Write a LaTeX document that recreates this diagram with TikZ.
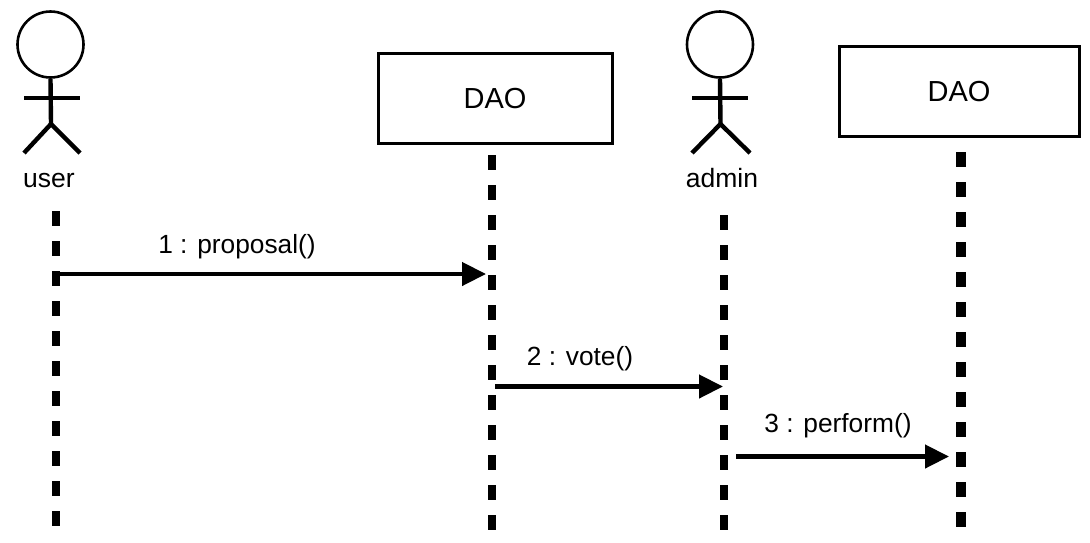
\documentclass[tikz,border=0pt]{standalone}
\usepackage{fontspec}
\setmainfont{Liberation Sans}
\usetikzlibrary{arrows.meta}
\tikzset{
  lifeline/.style={line width=8pt,dash pattern=on 15pt off 15pt},
  objectbox/.style={draw,line width=3pt,rectangle,minimum width=234pt,minimum height=90pt,inner sep=0pt,font=\fontsize{29}{32}\selectfont},
  head/.style={draw,circle,line width=2.6pt,minimum size=66pt,inner sep=0pt},
  limb/.style={line width=4.4pt},
  actorlabel/.style={font=\fontsize{26.5}{30}\selectfont,inner sep=0pt},
  msglabel/.style={font=\fontsize{26.3}{30}\selectfont,inner sep=0pt},
  msg/.style={line width=4.4pt,-{Triangle[length=24pt,width=23pt]}}
}
\begin{document}
\begin{tikzpicture}[x=1pt,y=-1pt]
\useasboundingbox (0,0) rectangle (1090,542);
% lifeline end points
\coordinate (ut) at (56,211);   \coordinate (ub) at (56,526);
\coordinate (d1t) at (492,155); \coordinate (d1b) at (492,530);
\coordinate (at) at (724,215);  \coordinate (ab) at (724,530);
\coordinate (d2t) at (961,152); \coordinate (d2b) at (961,527);
\draw[lifeline] (ut) -- (ub);
\draw[lifeline] (d1t) -- (d1b);
\draw[lifeline] (at) -- (ab);
\draw[lifeline,line width=10pt] (d2t) -- (d2b);
% objects
\node[objectbox] (dao1) at (495,98.5) {DAO};
\node[objectbox,minimum width=240pt] (dao2) at (959,91.5) {DAO};
% user actor
\node[head] (uhead) at (50.5,44.5) {};
\coordinate (uhip) at (51,124);
\coordinate (ularm) at (24,98); \coordinate (urarm) at (80,98);
\coordinate (ullf) at (24,153); \coordinate (urlf) at (80,153);
\draw[limb] (uhead.south) -- (uhip);
\draw[limb] (ularm) -- (urarm);
\draw[limb] (ullf) -- (uhip) -- (urlf);
\node[actorlabel] (ulabel) at (49,180) {user};
% admin actor
\node[head] (ahead) at (720,44.5) {};
\coordinate (ahip) at (720.5,124);
\coordinate (alarm) at (692,98); \coordinate (ararm) at (748,98);
\coordinate (allf) at (692,153); \coordinate (arlf) at (750,153);
\draw[limb] (ahead.south) -- (ahip);
\draw[limb] (alarm) -- (ararm);
\draw[limb] (allf) -- (ahip) -- (arlf);
\node[actorlabel] (alabel) at (722,178) {admin};
% messages
\coordinate (m1s) at (60,274);    \coordinate (m1e) at (486,274);
\coordinate (m2s) at (495,386.5); \coordinate (m2e) at (723,386.5);
\coordinate (m3s) at (736,456.5); \coordinate (m3e) at (949,456.5);
\draw[msg] (m1s) -- (m1e);
\draw[msg] (m2s) -- (m2e);
\draw[msg] (m3s) -- (m3e);
\node[msglabel] (l1) at (237,247) {1 : proposal()};
\node[msglabel] (l2) at (580,359) {2 : vote()};
\node[msglabel] (l3) at (838,426) {3 : perform()};
\end{tikzpicture}
\end{document}
